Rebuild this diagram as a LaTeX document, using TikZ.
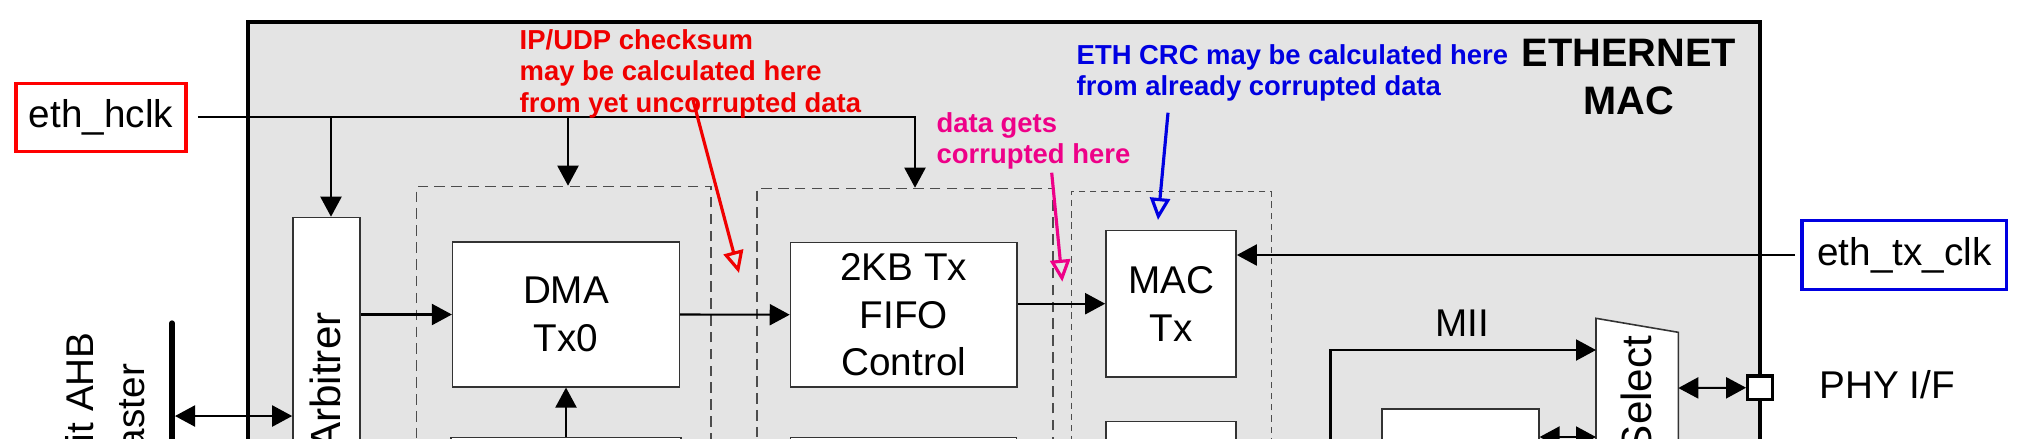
\documentclass[tikz,border=0pt]{standalone}
\usepackage{fontspec}
\setmainfont{Liberation Sans}
\usetikzlibrary{arrows.meta}
\definecolor{macgray}{RGB}{228,228,228}
\definecolor{noteRed}{RGB}{240,0,0}
\definecolor{noteBlue}{RGB}{0,0,225}
\definecolor{notePink}{RGB}{238,0,136}

\begin{document}
\begin{tikzpicture}[x=0.01cm,y=-0.01cm,>={Triangle[length=2mm,width=2.1mm]},
  every node/.style={inner sep=0pt},
  blk/.style={draw=black!80,line width=0.45pt,fill=white,align=center,font=\fontsize{11}{13.6}\selectfont},
  grp/.style={draw=black!70,line width=0.4pt,dash pattern=on 3pt off 1.8pt},
  wire/.style={line width=0.6pt},
  clkbox/.style={draw,line width=1pt,fill=white,font=\fontsize{11}{13}\selectfont},
  note/.style={align=left,anchor=north west,font=\bfseries\fontsize{7.8}{8.9}\selectfont},
  hint/.style={line width=0.9pt,-{Triangle[open,length=2.2mm,width=2mm]}},
  vtext/.style={rotate=90,anchor=east,font=\fontsize{12}{14}\selectfont}]
  \clip (0,0) rectangle (2036,438);
  % MAC frame
  \fill[macgray] (248,22) rectangle (1760,470);
  \draw[line width=1.3pt] (248,470) -- (248,22) -- (1760,22) -- (1760,470);
  \node[font=\bfseries\fontsize{11.3}{13.7}\selectfont,align=center] (title) at (1629,77) {ETHERNET\\MAC};

  % groups
  \node[grp,minimum width=2.945cm,minimum height=3cm,anchor=north] (dmagrp) at (563.7,185.7) {};
  \node[grp,minimum width=2.96cm,minimum height=3cm,anchor=north] (fifogrp) at (905,187.7) {};
  \node[grp,dash pattern=on 1.8pt off 1.4pt,minimum width=2cm,minimum height=3cm,anchor=north] (macgrp) at (1171.3,190.7) {};

  % blocks
  \node[blk,minimum width=0.67cm,minimum height=3.4cm,anchor=north] (arb) at (326.5,216.7) {};
  \node[vtext] (arbtxt) at (325,311.7) {Arbitrer};
  \node[blk,minimum width=2.265cm,minimum height=1.444cm] (dma) at (566,314.5) {DMA\\Tx0};
  \node[blk,minimum width=2.3cm,minimum height=1cm,anchor=north] (dmarx) at (566,436.7) {};
  \node[blk,minimum width=2.264cm,minimum height=1.44cm] (fifo) at (903.8,314.7) {2KB Tx\\FIFO\\Control};
  \node[blk,minimum width=2.26cm,minimum height=1cm,anchor=north] (fiforx) at (903.5,436.7) {};
  \node[blk,minimum width=1.3cm,minimum height=1.46cm] (mactx) at (1171,303.7) {MAC\\Tx};
  \node[blk,minimum width=1.3cm,minimum height=1cm,anchor=north] (macrx) at (1171,420.7) {};
  \node[blk,minimum width=1.567cm,minimum height=1cm,anchor=north] (miibox) at (1460.4,408.3) {};

  % select
  \coordinate (selTL) at (1596,318.3);
  \coordinate (selTR) at (1678.3,332.3);
  \draw[blk] (1596,470) -- (selTL) -- (selTR) -- (1678.3,470) -- cycle;
  \node[vtext] (seltxt) at (1636,335) {Select};
  \coordinate (selMII) at (1596,350);
  \coordinate (selPHY) at (1678.3,388);
  \coordinate (selLow) at (1596,437);

  % clocks
  \node[clkbox,draw=red,minimum width=1.7cm,minimum height=0.68cm] (hclk) at (101,117.3) {eth\_hclk};
  \node[clkbox,draw=noteBlue,minimum width=2.046cm,minimum height=0.686cm] (txclk) at (1904.3,255) {eth\_tx\_clk};
  \coordinate (tapA) at (331,117.3);
  \coordinate (tapB) at (568,117.3);
  \coordinate (tapC) at (915,117.3);
  \draw[wire,->,shorten <=1mm] (hclk.east) -| (tapC |- fifogrp.north);
  \draw[wire,->] (tapA) -- (tapA |- arb.north);
  \draw[wire,->] (tapB) -- (tapB |- dmagrp.north);
  \draw[wire,->,shorten <=0.5mm] (txclk.west) -- (txclk.west -| mactx.east);

  % data path
  \draw[wire,->] (arb.east |- dma.west) -- (dma.west);
  \draw[wire,->] (dmarx) -- (dma);
  \draw[wire,->] (dma.east) -- (fifo.west);
  \draw[wire,->] (fifo.east |- mactx.west) -- (mactx.west);
  \coordinate (miiup) at (1330.5,470);
  \draw[wire,->] (miiup) |- (selMII);
  \node[font=\fontsize{11}{13}\selectfont,anchor=base] (mii) at (1462,336.7) {MII};
  \draw[wire,<->] (miibox.east |- selLow) -- (selLow);
  \node[draw,line width=0.9pt,fill=white,minimum width=0.246cm,minimum height=0.233cm] (phy) at (1760,387.7) {};
  \draw[wire,<->] (selPHY) -- (phy.west);
  \node[font=\fontsize{11}{13}\selectfont,anchor=base west] (phytxt) at (1818.8,398.3) {PHY I/F};

  % AHB side
  \coordinate (ahbtop) at (172,323.3);
  \draw[line width=1.7pt,line cap=round] (ahbtop) -- (172,470);
  \coordinate (ahb) at (175,416);
  \draw[wire,<->] (ahb) -- (ahb -| arb.west);
  \node[vtext,font=\fontsize{11}{13}\selectfont] (ahbtxt) at (80,331.7) {it AHB};
  \node[vtext,font=\fontsize{11}{13}\selectfont] (mstxt) at (131.7,363.3) {aster};

  % notes
  \node[note,text=noteRed] (csum) at (519,29) {IP/UDP checksum\\may be calculated here\\from yet uncorrupted data};
  \coordinate (csumA) at (693,100);
  \coordinate (csumB) at (739,273);
  \draw[hint,draw=noteRed] (csumA) -- (csumB);
  \node[note,text=notePink] (bad) at (936,111.7) {data gets\\corrupted here};
  \coordinate (badA) at (1051.7,172.7);
  \coordinate (badB) at (1062.3,281.7);
  \draw[hint,draw=notePink] (badA) -- (badB);
  \node[note,text=noteBlue] (crc) at (1076,44) {ETH CRC may be calculated here\\from already corrupted data};
  \coordinate (crcA) at (1168,112.7);
  \coordinate (crcB) at (1158,220);
  \draw[hint,draw=noteBlue] (crcA) -- (crcB);
\end{tikzpicture}
\end{document}
